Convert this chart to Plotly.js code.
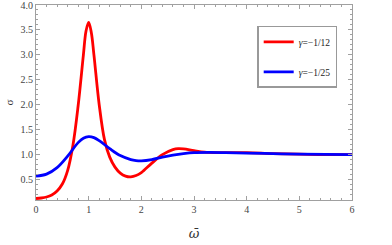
<!DOCTYPE html>
<html><head><meta charset="utf-8">
<script src="https://cdn.plot.ly/plotly-3.0.1.min.js"></script>
<style>body{margin:0;padding:0;background:#fff}#c{width:392px;height:245px}</style>
</head><body><div id="c"></div>
<script>
const redX = [0,0.1,0.2,0.3,0.4,0.5,0.6,0.7,0.8,0.9,0.95,1.0,1.05,1.1,1.2,1.3,1.4,1.5,1.6,1.7,1.8,1.9,2.0,2.2,2.4,2.6,2.7,2.8,3.0,3.2,3.5,4.0,4.5,5.0,5.5,6.0];
const redY = [0.12,0.13,0.15,0.19,0.27,0.41,0.68,1.18,1.98,3.0,3.48,3.65,3.45,3.0,2.0,1.3,0.95,0.75,0.63,0.57,0.555,0.58,0.64,0.83,1.0,1.1,1.12,1.115,1.08,1.05,1.04,1.04,1.02,1.01,1.0,1.0];
const blueX = [0,0.2,0.4,0.6,0.8,0.9,1.0,1.1,1.2,1.4,1.6,1.8,1.9,2.0,2.2,2.4,2.6,2.8,3.0,3.3,3.6,4.0,4.5,5.0,6.0];
const blueY = [0.57,0.61,0.74,0.97,1.24,1.33,1.36,1.34,1.28,1.12,0.98,0.9,0.88,0.875,0.9,0.95,0.99,1.02,1.04,1.045,1.04,1.03,1.02,1.01,1.0];
const names = ['<i>γ</i>=−1/12','<i>γ</i>=−1/25'];
const xTicks = [0,1,2,3,4,5,6];
const yTicks = [0.5,1.0,1.5,2.0,2.5,3.0,3.5,4.0];

const traces = [
 {x:redX,y:redY,mode:'lines',name:names[0],line:{color:'#ff0000',width:2.8,shape:'spline',smoothing:1},legendgroup:'a'},
 {x:blueX,y:blueY,mode:'lines',name:names[1],line:{color:'#0000ff',width:2.8,shape:'spline',smoothing:1},legendgroup:'b'}
];
const serif = 'Liberation Serif, Times New Roman, serif';
const axCommon = {showgrid:false,zeroline:false,showline:true,linecolor:'#a0a0a0',linewidth:1,mirror:'ticks',ticks:'inside',ticklen:4,tickcolor:'#a0a0a0',ticklabeloverflow:'allow',tickfont:{family:serif,size:10,color:'#444'}};
const layout = {
 width:392,height:245,margin:{l:36,r:40,t:5,b:45},paper_bgcolor:'#fff',plot_bgcolor:'#fff',
 xaxis:Object.assign({},axCommon,{range:[0,6],tickvals:xTicks,ticktext:xTicks.map(String),minor:{dtick:0.2,ticks:'inside',ticklen:2,tickcolor:'#a0a0a0'},
   title:{text:'<i>ω̄</i>',font:{family:'DejaVu Serif',size:13,color:'#333'},standoff:14}}),
 yaxis:Object.assign({},axCommon,{range:[0.09,4.0],tickvals:yTicks,ticktext:yTicks.map(v=>v.toFixed(1)),minor:{dtick:0.1,ticks:'inside',ticklen:2,tickcolor:'#a0a0a0'},
   title:{text:'σ',font:{family:serif,size:11,color:'#333'},standoff:4}}),
 showlegend:true,
 legend:{x:0.70,y:0.893,xanchor:'left',yanchor:'top',bgcolor:'#fff',bordercolor:'#999',borderwidth:1.5,
   font:{family:serif,size:9.5,color:'#222'},tracegroupgap:11,traceorder:'grouped',itemwidth:30}
};
Plotly.newPlot('c',traces,layout,{staticPlot:true,displayModeBar:false});
</script></body></html>
